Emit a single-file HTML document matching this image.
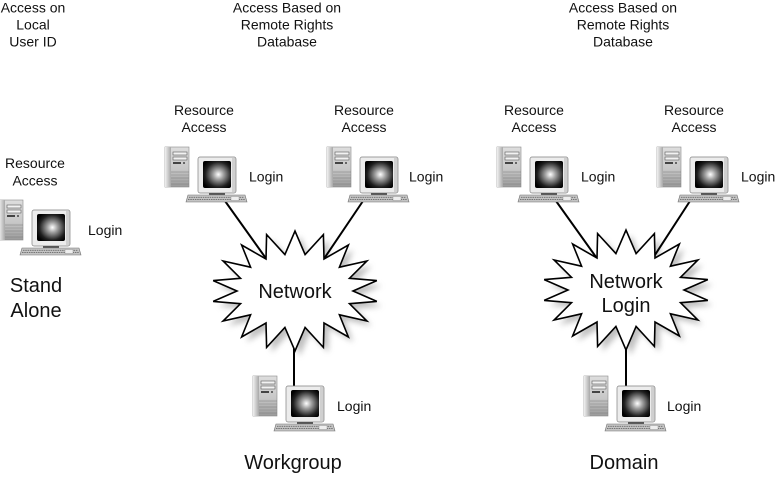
<!DOCTYPE html>
<html>
<head>
<meta charset="utf-8">
<style>
  html,body{margin:0;padding:0;background:#fff;}
  svg{display:block;}
  text{font-family:"Liberation Sans", Arial, sans-serif; fill:#111;}
  .s{font-size:14px;}
  .b{font-size:20px;}
</style>
</head>
<body>
<svg width="776" height="498" viewBox="0 0 776 498" xmlns="http://www.w3.org/2000/svg">
  <defs>
    <radialGradient id="scr" cx="55%" cy="50%" r="62%">
      <stop offset="0" stop-color="#ffffff"/>
      <stop offset="0.3" stop-color="#a0a0a0"/>
      <stop offset="0.75" stop-color="#202020"/>
      <stop offset="1" stop-color="#000"/>
    </radialGradient>
    <linearGradient id="side" x1="0" y1="0" x2="1" y2="0">
      <stop offset="0" stop-color="#f0f0f0"/>
      <stop offset="1" stop-color="#a8a8a8"/>
    </linearGradient>
    <linearGradient id="front" x1="0" y1="0" x2="0" y2="1">
      <stop offset="0" stop-color="#dedede"/>
      <stop offset="0.55" stop-color="#c8c8c8"/>
      <stop offset="1" stop-color="#9a9a9a"/>
    </linearGradient>
    <filter id="blur" x="-20%" y="-20%" width="140%" height="140%">
      <feGaussianBlur stdDeviation="3"/>
    </filter>
    <g id="pc">
      <!-- tower -->
      <rect x="0" y="0" width="24" height="40" fill="url(#front)" stroke="#8a8a8a" stroke-width="0.6"/>
      <rect x="0" y="0" width="6" height="40" fill="url(#side)"/>
      <rect x="8" y="5" width="14" height="3" fill="#f2f2f2" stroke="#5a5a5a" stroke-width="0.6"/>
      <rect x="8" y="10" width="14" height="3" fill="#f2f2f2" stroke="#5a5a5a" stroke-width="0.6"/>
      <rect x="8" y="15" width="8" height="2" fill="#444"/>
      <rect x="18" y="15" width="2" height="2" fill="#666"/>
      <line x1="6" y1="25" x2="24" y2="25" stroke="#7a7a7a" stroke-width="0.6"/>
      <line x1="6" y1="28" x2="24" y2="28" stroke="#8a8a8a" stroke-width="0.6"/>
      <line x1="6" y1="31" x2="24" y2="31" stroke="#7a7a7a" stroke-width="0.6"/>
      <line x1="6" y1="34" x2="24" y2="34" stroke="#8a8a8a" stroke-width="0.6"/>
      <line x1="6" y1="37" x2="24" y2="37" stroke="#7a7a7a" stroke-width="0.6"/>
      <!-- monitor -->
      <rect x="33" y="10" width="38" height="36" rx="2" fill="#ececec" stroke="#808080" stroke-width="0.7"/>
      <rect x="67" y="11" width="3.5" height="34" fill="#d0d0d0"/>
      <rect x="38" y="14" width="28" height="27" rx="2" fill="url(#scr)"/>
      <rect x="44" y="46" width="16" height="2" fill="#555"/>
      <!-- keyboard -->
      <polygon points="23,48 80,48 82,55 21,55" fill="#c4c4c4" stroke="#707070" stroke-width="0.6"/>
      <line x1="24" y1="50.3" x2="79" y2="50.3" stroke="#6a6a6a" stroke-width="0.9" stroke-dasharray="1.5 0.8"/>
      <line x1="23" y1="52.6" x2="80" y2="52.6" stroke="#6a6a6a" stroke-width="0.9" stroke-dasharray="1.5 0.8"/>
      <rect x="66" y="49.5" width="8" height="4" fill="#eee" stroke="#888" stroke-width="0.4"/>
    </g>
    <polygon id="star" points="353,291 376.8,280.6 349.5,278.3 366.9,261 339.4,267.2 348.4,245 324,259 323.4,234.6 305.1,254.6 295,231 284.9,254.6 266.6,234.6 266,259 241.6,245 250.6,267.2 223.1,261 240.5,278.3 213.2,280.6 237,291 213.2,301.4 240.5,303.7 223.1,321 250.6,314.8 241.6,337 266,323 266.6,347.4 284.9,327.4 295,351 305.1,327.4 323.4,347.4 324,323 348.4,337 339.4,314.8 366.9,321 349.5,303.7 376.8,301.4"/>
  </defs>

  <!-- top labels -->
  <text class="s" x="33" y="12.5" text-anchor="middle">Access on</text>
  <text class="s" x="33" y="29.5" text-anchor="middle">Local</text>
  <text class="s" x="33" y="46.5" text-anchor="middle">User ID</text>

  <text class="s" x="287" y="12.5" text-anchor="middle">Access Based on</text>
  <text class="s" x="287" y="29.5" text-anchor="middle">Remote Rights</text>
  <text class="s" x="287" y="46.5" text-anchor="middle">Database</text>

  <text class="s" x="623" y="12.5" text-anchor="middle">Access Based on</text>
  <text class="s" x="623" y="29.5" text-anchor="middle">Remote Rights</text>
  <text class="s" x="623" y="46.5" text-anchor="middle">Database</text>

  <!-- Resource Access labels -->
  <text class="s" x="35" y="168" text-anchor="middle">Resource</text>
  <text class="s" x="35" y="185.5" text-anchor="middle">Access</text>
  <text class="s" x="204" y="115" text-anchor="middle">Resource</text>
  <text class="s" x="204" y="132" text-anchor="middle">Access</text>
  <text class="s" x="364" y="115" text-anchor="middle">Resource</text>
  <text class="s" x="364" y="132" text-anchor="middle">Access</text>
  <text class="s" x="534" y="115" text-anchor="middle">Resource</text>
  <text class="s" x="534" y="132" text-anchor="middle">Access</text>
  <text class="s" x="694" y="115" text-anchor="middle">Resource</text>
  <text class="s" x="694" y="132" text-anchor="middle">Access</text>

  <!-- shadows -->
  <use href="#star" transform="translate(5,5)" fill="#8c8c8c" opacity="0.55" filter="url(#blur)"/>
  <use href="#star" transform="translate(336,4)" fill="#8c8c8c" opacity="0.55" filter="url(#blur)"/>

  <!-- connectors -->
  <g stroke="#000" stroke-width="2" stroke-linecap="round">
    <line x1="225" y1="201" x2="280" y2="278"/>
    <line x1="363" y1="201" x2="311" y2="278"/>
    <line x1="294" y1="320" x2="294" y2="387"/>
    <line x1="556" y1="201" x2="611" y2="278"/>
    <line x1="690" y1="201" x2="640" y2="278"/>
    <line x1="626" y1="320" x2="626" y2="387"/>
  </g>

  <!-- starbursts -->
  <use href="#star" fill="#fff" stroke="#000" stroke-width="1.6" stroke-linejoin="miter"/>
  <use href="#star" transform="translate(331,-1)" fill="#fff" stroke="#000" stroke-width="1.6" stroke-linejoin="miter"/>

  <text class="b" x="295" y="298" text-anchor="middle">Network</text>
  <text class="b" x="626" y="288" text-anchor="middle">Network</text>
  <text class="b" x="626" y="312" text-anchor="middle">Login</text>

  <!-- computers -->
  <use href="#pc" transform="translate(-1,200)"/>
  <use href="#pc" transform="translate(165,147)"/>
  <use href="#pc" transform="translate(327,147)"/>
  <use href="#pc" transform="translate(253,376)"/>
  <use href="#pc" transform="translate(497,147)"/>
  <use href="#pc" transform="translate(657,147)"/>
  <use href="#pc" transform="translate(584,376)"/>

  <!-- Login labels -->
  <text class="s" x="88" y="235">Login</text>
  <text class="s" x="249" y="181.5">Login</text>
  <text class="s" x="409" y="181.5">Login</text>
  <text class="s" x="337" y="411">Login</text>
  <text class="s" x="581" y="181.5">Login</text>
  <text class="s" x="741" y="181.5">Login</text>
  <text class="s" x="667" y="411">Login</text>

  <!-- big labels -->
  <text class="b" x="36" y="292" text-anchor="middle">Stand</text>
  <text class="b" x="36" y="317" text-anchor="middle">Alone</text>
  <text class="b" x="293" y="469" text-anchor="middle">Workgroup</text>
  <text class="b" x="624" y="469" text-anchor="middle">Domain</text>
</svg>
</body>
</html>
